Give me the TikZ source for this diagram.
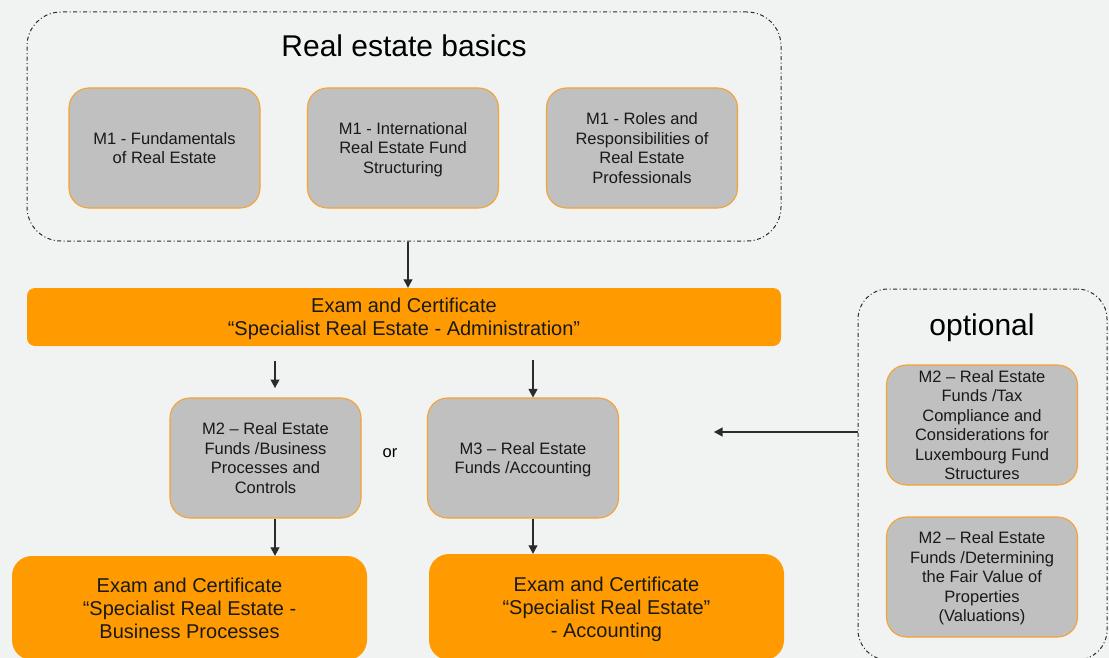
\documentclass[tikz,border=0pt]{standalone}
\usepackage{fontspec}
\setmainfont{Liberation Sans}
\usetikzlibrary{arrows.meta}
\definecolor{bgc}{HTML}{F1F2F2}
\definecolor{boxgray}{HTML}{C0C0C0}
\definecolor{boxedge}{HTML}{F5A331}
\definecolor{orng}{HTML}{FF9B00}
\definecolor{linec}{HTML}{2B2B2B}
\begin{document}
\begin{tikzpicture}[x=1pt,y=-1pt,
  grp/.style={draw=linec,line width=1pt,dash pattern=on 4pt off 2.5pt on 1pt off 2.5pt,rounded corners=34pt,inner sep=0pt},
  modbox/.style={draw=boxedge,line width=1.1pt,fill=boxgray,rounded corners=20pt,minimum width=191pt,minimum height=120pt,align=center,inner sep=0pt,text depth=0pt,font=\fontsize{16.5}{19.5}\selectfont,text=black!90},
  exambar/.style={fill=orng,rounded corners=8pt,minimum width=754pt,minimum height=58pt,align=center,inner sep=0pt,text depth=-2pt,font=\fontsize{20}{23}\selectfont,text=black!90},
  exambox/.style={fill=orng,rounded corners=20pt,minimum width=355pt,minimum height=104pt,align=center,inner sep=0pt,text depth=0pt,font=\fontsize{20}{23}\selectfont,text=black!90},
  arr/.style={draw=linec,line width=1.1pt,-{Triangle[width=9pt,length=8.5pt]}}
]
\useasboundingbox (0,0) rectangle (1109,658);
\clip (0,0) rectangle (1109,658);
\fill[bgc] (0,0) rectangle (1109,658);

% Real estate basics group
\node[grp,minimum width=754pt,minimum height=229pt] (basics) at (404,126.5) {};
\node[font=\fontsize{30}{34}\selectfont,anchor=base] (basicstitle) at (404,57) {Real estate basics};
\node[modbox] (m1a) at (164.5,148) {M1 - Fundamentals\\of Real Estate};
\node[modbox] (m1b) at (403,148) {M1 - International\\Real Estate Fund\\Structuring};
\node[modbox] (m1c) at (642,148) {M1 - Roles and\\Responsibilities of\\Real Estate\\Professionals};

% Exam bar
\node[exambar] (exam1) at (404,317) {Exam and Certificate\\“Specialist Real Estate - Administration”};
\draw[arr] (basics.south -| 408,0) -- (exam1.north -| 408,0);

% M2 / M3
\node[modbox] (m2) at (265.5,458) {M2 – Real Estate\\Funds /Business\\Processes and\\Controls};
\node[modbox] (m3) at (523,458) {M3 – Real Estate\\Funds /Accounting};
\node[font=\fontsize{16.5}{19.5}\selectfont] (or) at (390,453) {or};

\coordinate (la1) at (275,361);
\coordinate (la2) at (275,388);
\draw[arr] (la1) -- (la2);
\draw[arr] (exam1.south -| 533,0) ++(0,14) -- (m3.north -| 533,0);

% Bottom exams
\node[exambox] (exam2) at (189.5,608) {Exam and Certificate\\“Specialist Real Estate -\\Business Processes};
\node[exambox,minimum height=106pt] (exam3) at (606.5,607) {Exam and Certificate\\“Specialist Real Estate”\\- Accounting};
\draw[arr] (m2.south -| 275,0) -- (exam2.north -| 275,0);
\draw[arr] (m3.south -| 533,0) -- (exam3.north -| 533,0);

% Optional group
\node[grp,minimum width=249pt,minimum height=371pt,rounded corners=30pt] (opt) at (982.5,474.5) {};
\node[font=\fontsize{30}{34}\selectfont,anchor=base] (opttitle) at (982,335) {optional};
\node[modbox] (oa) at (982,425) {M2 – Real Estate\\Funds /Tax\\Compliance and\\Considerations for\\Luxembourg Fund\\Structures};
\node[modbox] (ob) at (982,577) {M2 – Real Estate\\Funds /Determining\\the Fair Value of\\Properties\\(Valuations)};
\coordinate (optarrow) at (714,432);
\draw[arr] (opt.west |- 0,432) -- (optarrow);
\end{tikzpicture}
\end{document}
